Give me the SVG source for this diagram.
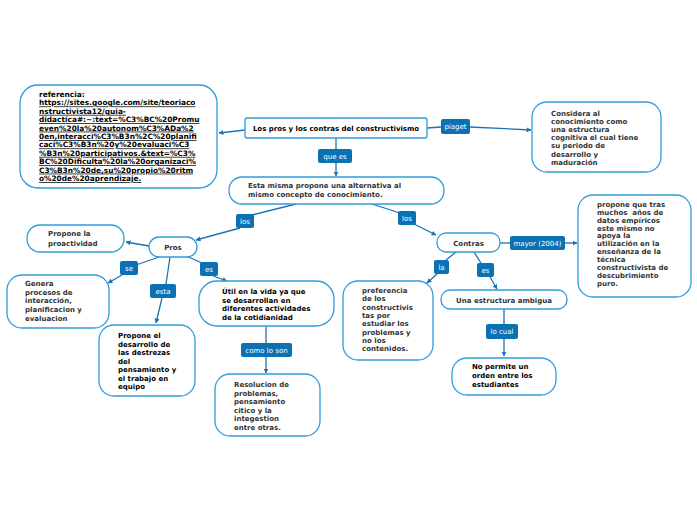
<svg xmlns="http://www.w3.org/2000/svg" width="697" height="520" viewBox="0 0 697 520">
<style>
.node{fill:#fff;stroke:#2E9CDC;stroke-width:1.3}
.t{font-family:"DejaVu Sans",Verdana,sans-serif;font-weight:bold;font-size:7px;fill:#333}
.k{fill:#000}
.lbl{fill:#0B71B5}
.lt{font-family:"DejaVu Sans",Verdana,sans-serif;font-size:7px;fill:#fff;text-anchor:middle}
.c{stroke:#1D72B2;stroke-width:1.3;fill:none}
.a{marker-end:url(#ah)}
</style>
<defs>
<marker id="ah" viewBox="0 0 10 10" refX="9" refY="5" markerWidth="5" markerHeight="5" orient="auto" markerUnits="userSpaceOnUse">
<path d="M0,0 L10,5 L0,10 z" fill="#1D72B2"/>
</marker>
</defs>
<rect width="697" height="520" fill="#fff"/>
<g id="connectors">
<path class="c a" d="M245,130 L219,133"/>
<path class="c" d="M427,128 L441,127"/>
<path class="c a" d="M470,127 L531,130"/>
<path class="c" d="M336,138 L336,149"/>
<path class="c a" d="M336,163 L336,176"/>
<path class="c" d="M296,204 L252,215"/>
<path class="c a" d="M240,228 L196,240"/>
<path class="c" d="M372,204 L400,213"/>
<path class="c a" d="M414,224 L436,235"/>
<path class="c a" d="M149,246 L126,242"/>
<path class="c" d="M159,257 L136,265"/>
<path class="c a" d="M122,275 L108,283"/>
<path class="c" d="M170,257 L166,284"/>
<path class="c a" d="M162,298 L156,323"/>
<path class="c" d="M186,256 L202,263"/>
<path class="c a" d="M213,276 L227,281"/>
<path class="c" d="M266,326 L266,343"/>
<path class="c a" d="M266,357 L266,373"/>
<path class="c" d="M500,243 L510,243"/>
<path class="c a" d="M565,243 L577,243"/>
<path class="c" d="M456,252 L446,260"/>
<path class="c a" d="M437,274 L427,283"/>
<path class="c" d="M474,252 L481,263"/>
<path class="c a" d="M490,277 L497,289"/>
<path class="c" d="M504,309 L504,324"/>
<path class="c a" d="M504,339 L504,356"/>
</g>
<g id="lbl-piaget"><rect class="lbl" x="441" y="119" width="29" height="15" rx="2"/><text class="lt" x="455.5" y="129">piaget</text></g>
<g id="lbl-quees"><rect class="lbl" x="318" y="149" width="34" height="14" rx="2"/><text class="lt" x="335" y="159">que es</text></g>
<g id="lbl-los1"><rect class="lbl" x="236" y="214" width="18" height="14" rx="2"/><text class="lt" x="245" y="224">los</text></g>
<g id="lbl-los2"><rect class="lbl" x="398" y="211" width="18" height="14" rx="2"/><text class="lt" x="407" y="221">los</text></g>
<g id="lbl-se"><rect class="lbl" x="120" y="261" width="18" height="14" rx="2"/><text class="lt" x="129" y="271">se</text></g>
<g id="lbl-esta"><rect class="lbl" x="150" y="284" width="26" height="14" rx="2"/><text class="lt" x="163" y="294">esta</text></g>
<g id="lbl-es1"><rect class="lbl" x="200" y="262" width="18" height="14" rx="2"/><text class="lt" x="209" y="272">es</text></g>
<g id="lbl-como"><rect class="lbl" x="241" y="343" width="51" height="14" rx="2"/><text class="lt" x="266.5" y="353">como lo son</text></g>
<g id="lbl-mayor"><rect class="lbl" x="510" y="236" width="55" height="14" rx="2"/><text class="lt" x="537.5" y="246">mayor (2004)</text></g>
<g id="lbl-la"><rect class="lbl" x="434" y="260" width="15" height="14" rx="2"/><text class="lt" x="441.5" y="270">la</text></g>
<g id="lbl-es2"><rect class="lbl" x="477" y="263" width="17" height="14" rx="2"/><text class="lt" x="485.5" y="273">es</text></g>
<g id="lbl-locual"><rect class="lbl" x="486" y="324" width="32" height="15" rx="2"/><text class="lt" x="502" y="334">lo cual</text></g>
<g id="n-referencia">
<rect class="node" x="20" y="85" width="197" height="103" rx="18"/>
<text class="t k" style="font-size:7.4px" x="39" y="97">referencia:<tspan x="39" dy="8.4" text-decoration="underline">https://sites.google.com/site/teoriaco</tspan><tspan x="39" dy="8.4" text-decoration="underline">nstructivista12/guia-</tspan><tspan x="39" dy="8.4" text-decoration="underline">didactica#:~:text=%C3%BC%20Promu</tspan><tspan x="39" dy="8.4" text-decoration="underline">even%20la%20autonom%C3%ADa%2</tspan><tspan x="39" dy="8.4" text-decoration="underline">0en,interacci%C3%B3n%2C%20planifi</tspan><tspan x="39" dy="8.4" text-decoration="underline">caci%C3%B3n%20y%20evaluaci%C3</tspan><tspan x="39" dy="8.4" text-decoration="underline">%B3n%20participativos.&amp;text=%C3%</tspan><tspan x="39" dy="8.4" text-decoration="underline">BC%20Dificulta%20la%20organizaci%</tspan><tspan x="39" dy="8.4" text-decoration="underline">C3%B3n%20de,su%20propio%20ritm</tspan><tspan x="39" dy="8.4" text-decoration="underline">o%20de%20aprendizaje.</tspan></text>
</g>
<g id="n-central">
<rect class="node" x="245" y="118" width="182" height="20" rx="2"/>
<text class="t k" x="336" y="131" text-anchor="middle">Los pros y los contras del constructivismo</text>
</g>
<g id="n-considera">
<rect class="node" x="532" y="102" width="129" height="70" rx="15"/>
<text class="t" x="551" y="116">Considera al<tspan x="551" dy="8.1">conocimiento como</tspan><tspan x="551" dy="8.1">una estructura</tspan><tspan x="551" dy="8.1">cognitiva el cual tiene</tspan><tspan x="551" dy="8.1">su periodo de</tspan><tspan x="551" dy="8.1">desarrollo y</tspan><tspan x="551" dy="8.1">maduración</tspan></text>
</g>
<g id="n-esta">
<rect class="node" x="229" y="177" width="215" height="27" rx="13"/>
<text class="t" x="248" y="188">Esta misma propone una alternativa al<tspan x="248" dy="9">mismo concepto de conocimiento.</tspan></text>
</g>
<g id="n-proactividad">
<rect class="node" x="27" y="225" width="97" height="27" rx="13"/>
<text class="t" x="48" y="236">Propone la<tspan x="48" dy="9.5">proactividad</tspan></text>
</g>
<g id="n-pros">
<rect class="node" x="149" y="237" width="48" height="20" rx="10"/>
<text class="t" x="173" y="250" text-anchor="middle">Pros</text>
</g>
<g id="n-genera">
<rect class="node" x="7" y="275" width="102" height="53" rx="15"/>
<text class="t" x="25" y="286">Genera<tspan x="25" dy="8.7">procesos de</tspan><tspan x="25" dy="8.7">interacción,</tspan><tspan x="25" dy="8.7">planificacion y</tspan><tspan x="25" dy="8.7">evaluacion</tspan></text>
</g>
<g id="n-desarrollo">
<rect class="node" x="99" y="325" width="96" height="71" rx="15"/>
<text class="t k" x="118" y="338">Propone el<tspan x="118" dy="8.5">desarrollo de</tspan><tspan x="118" dy="8.5">las destrezas</tspan><tspan x="118" dy="8.5">del</tspan><tspan x="118" dy="8.5">pensamiento y</tspan><tspan x="118" dy="8.5">el trabajo en</tspan><tspan x="118" dy="8.5">equipo</tspan></text>
</g>
<g id="n-util">
<rect class="node" x="199" y="281" width="135" height="45" rx="18"/>
<text class="t k" x="222" y="294">Útil en la vida ya que<tspan x="222" dy="8.5">se desarrollan en</tspan><tspan x="222" dy="8.5">diferentes actividades</tspan><tspan x="222" dy="8.5">de la cotidianidad</tspan></text>
</g>
<g id="n-resolucion">
<rect class="node" x="215" y="374" width="105" height="62" rx="15"/>
<text class="t" x="234" y="387">Resolucion de<tspan x="234" dy="8.6">problemas,</tspan><tspan x="234" dy="8.6">pensamiento</tspan><tspan x="234" dy="8.6">citico y la</tspan><tspan x="234" dy="8.6">integestion</tspan><tspan x="234" dy="8.6">entre otras.</tspan></text>
</g>
<g id="n-contras">
<rect class="node" x="437" y="233" width="63" height="19" rx="9"/>
<text class="t" x="468.5" y="245.5" text-anchor="middle">Contras</text>
</g>
<g id="n-mayor">
<rect class="node" x="578" y="195" width="113" height="102" rx="15"/>
<text class="t" x="597" y="207" xml:space="preserve">propone que tras<tspan x="597" dy="7.85">muchos  años de</tspan><tspan x="597" dy="7.85">datos empíricos</tspan><tspan x="597" dy="7.85">este mismo no</tspan><tspan x="597" dy="7.85">apoya la</tspan><tspan x="597" dy="7.85">utilización en la</tspan><tspan x="597" dy="7.85">enseñanza de la</tspan><tspan x="597" dy="7.85">técnica</tspan><tspan x="597" dy="7.85">constructivista de</tspan><tspan x="597" dy="7.85">descubrimiento</tspan><tspan x="597" dy="7.85">puro.</tspan></text>
</g>
<g id="n-preferencia">
<rect class="node" x="343" y="281" width="90" height="79" rx="15"/>
<text class="t" x="362" y="293">preferencia<tspan x="362" dy="8.3">de los</tspan><tspan x="362" dy="8.3">constructivis</tspan><tspan x="362" dy="8.3">tas por</tspan><tspan x="362" dy="8.3">estudiar los</tspan><tspan x="362" dy="8.3">problemas y</tspan><tspan x="362" dy="8.3">no los</tspan><tspan x="362" dy="8.3">contenidos.</tspan></text>
</g>
<g id="n-ambigua">
<rect class="node" x="441" y="290" width="126" height="19" rx="9"/>
<text class="t" x="504" y="302.5" text-anchor="middle">Una estructura ambigua</text>
</g>
<g id="n-nopermite">
<rect class="node" x="452" y="358" width="104" height="37" rx="15"/>
<text class="t k" x="472" y="369">No permite un<tspan x="472" dy="9">orden entre los</tspan><tspan x="472" dy="9">estudiantes</tspan></text>
</g>
</svg>
